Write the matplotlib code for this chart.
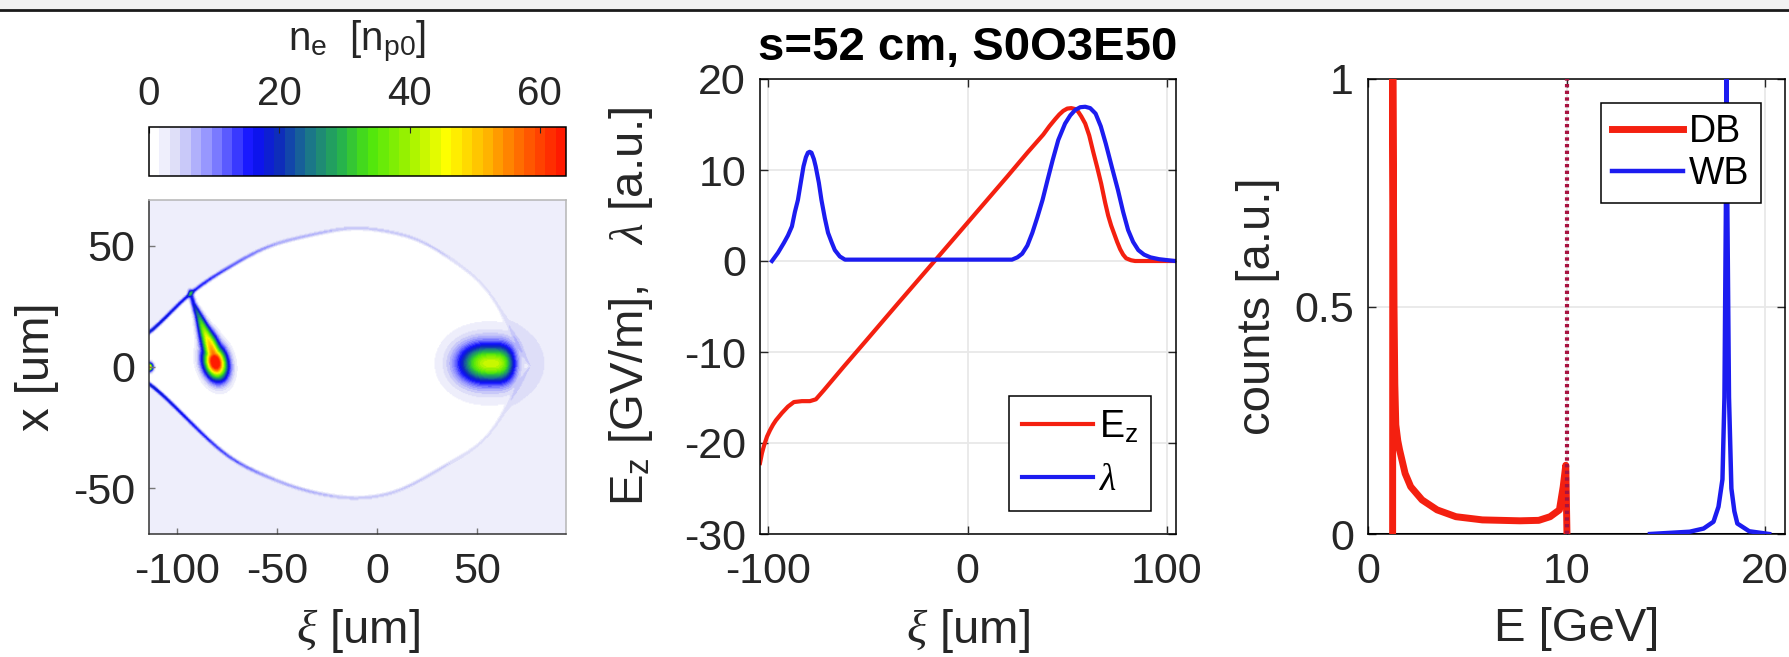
import numpy as np
import matplotlib
matplotlib.use('Agg')
import matplotlib.pyplot as plt
from matplotlib.colors import LinearSegmentedColormap
from matplotlib.lines import Line2D
from matplotlib.patches import Rectangle

plt.rcParams['font.family'] = ['Liberation Sans', 'DejaVu Sans']
plt.rcParams['axes.unicode_minus'] = False
plt.rcParams['mathtext.fontset'] = 'custom'
plt.rcParams['mathtext.rm'] = 'Liberation Sans'
plt.rcParams['mathtext.it'] = 'Liberation Serif:italic'
plt.rcParams['mathtext.bf'] = 'Liberation Sans:bold'

# ---- electron density map (left) ----
map_xi_lim = [-114.0, 94.5]
map_x_lim = [-69.0, 69.0]
# blowout boundary, upper and lower edge  [um]; the edges cross past the front
upper_xi = [-118, -114, -93.5, -55, -11, 21.5, 40.5, 55, 64, 70, 78]
upper_x = [8, 12, 31, 50, 58, 53, 42, 34, 24, 8, -10]
lower_xi = [-118, -114, -74, -40, -13, 10, 40.5, 55, 64, 70, 78]
lower_x = [-1, -5, -38, -50, -54.5, -52, -37, -31, -22, -6, 10]
background_density = 2.0
sheath_xi = [-114, -95, -75, -50, -10, 30, 50, 70, 94.5]
sheath_peak = [18, 15, 11, 6, 4, 3.5, 2, 1, 0.5]
drive_centre = [57.0, 1.5]
drive_peak = 39.0
drive_len = [15.0, 11.5]          # tail side, head side
drive_width = 5.4
witness_centre = [-81.0, 2.0]
witness_peak = 72.0
witness_size = [5.0, 3.8]         # along tail, across tail
tail_xi = [-81, -84, -87, -89.5, -91.8, -93.5]
tail_x = [3, 10, 16, 21.5, 26, 31]
tail_peak = [60, 50, 38, 26, 18, 15]
tail_width = [3.5, 2.8, 2.0, 1.4, 1.0, 0.9]
back_spot = [-114.0, 0.0, 55.0]   # xi, x, density

cmap_levels = [0, 0.06, 0.14, 0.24, 0.30, 0.38, 0.46, 0.53, 0.62, 0.72, 0.82, 0.92, 1.0]
cmap_colors = ['#ffffff', '#d9d9f7', '#8c8cff', '#0d0dff', '#0d26bf', '#1a738c',
               '#26b24d', '#4ce60d', '#99f200', '#ffff00', '#ffb300', '#ff5900', '#ff1a00']
density_max = 64

# ---- on-axis field and current (middle) ----
ez_xi = [-104, -103, -102, -100.5, -99, -97.5, -96, -93, -90, -87, -83, -79, -76, -72,
         -62, -51, -35, -16.5, 0, 20, 30, 38, 41, 44, 46, 48, 50, 52, 54, 55.5, 57, 59,
         61, 63, 65, 67, 69, 70.5, 72, 73.5, 75, 76.5, 78, 79.5, 82, 84, 104]
ez_val = [-22.2, -21.1, -20.3, -19.3, -18.6, -18.0, -17.5, -16.7, -16.0, -15.5, -15.4,
          -15.4, -15.2, -14.2, -11.6, -8.8, -4.7, 0.0, 4.2, 9.3, 11.9, 13.9, 14.8, 15.6,
          16.1, 16.5, 16.75, 16.8, 16.7, 16.4, 15.9, 15.1, 13.8, 12.0, 10.3, 8.5, 6.4,
          5.0, 3.9, 3.0, 2.1, 1.3, 0.7, 0.3, 0.08, 0.0, 0.0]
lam_xi = [-98, -95, -92, -90, -88, -86.5, -85, -83.5, -82.2, -81, -80, -79.1, -78.2,
          -77, -76.1, -74.5, -73.2, -71.5, -69.9, -68, -66.5, -64, -61.4,
          22.3, 25, 27.4, 30, 32.5, 35, 37.6, 40, 42.7, 45.5, 48.9, 51.5, 54, 56.5, 59,
          61.5, 64.2, 66.8, 69.3, 72.5, 75.4, 78, 80.5, 83, 85.6, 88.5, 91.7, 96, 99.9, 104]
lam_val = [0.0, 0.9, 2.0, 2.8, 3.8, 5.4, 6.7, 8.7, 10.4, 11.4, 11.9, 12.0, 11.9,
           11.2, 10.4, 8.6, 6.7, 4.7, 3.1, 2.0, 1.2, 0.5, 0.15,
           0.15, 0.4, 0.8, 1.7, 3.1, 4.8, 6.7, 8.8, 11.1, 13.3, 15.1, 16.0, 16.6, 16.9,
           16.95, 16.8, 16.2, 14.8, 12.9, 10.2, 7.8, 5.4, 3.4, 2.1, 1.2, 0.7, 0.4, 0.2,
           0.1, 0.0]

# ---- energy spectra (right) ----
db_energy = [1.24, 1.25, 1.28, 1.31, 1.35, 1.40, 1.50, 1.59, 1.87, 2.15, 2.72, 3.48,
             4.43, 5.76, 7.65, 8.6, 9.17, 9.64, 9.83, 9.96, 10.02]
db_counts = [0.0, 1.0, 0.75, 0.5, 0.33, 0.24, 0.205, 0.185, 0.133, 0.104, 0.075, 0.053,
             0.038, 0.031, 0.029, 0.03, 0.038, 0.053, 0.104, 0.151, 0.0]
wb_energy = [14.2, 16.2, 16.9, 17.4, 17.65, 17.85, 17.95, 18.02, 18.06, 18.1, 18.18,
             18.3, 18.45, 18.6, 19.2, 20.2]
wb_counts = [0.0, 0.005, 0.012, 0.027, 0.06, 0.12, 0.3, 0.7, 1.0, 0.7, 0.3,
             0.1, 0.05, 0.023, 0.006, 0.0]
injection_energy = 10.0

RED = '#f42010'
BLUE = '#1c1cf0'
TICK_FS = 31
LABEL_FS = 34
W, H = 1790, 657


def frac(x0, y0, x1, y1):
    return [x0 / W, 1 - y1 / H, (x1 - x0) / W, (y1 - y0) / H]


def style_axes(ax, spine_color='black'):
    ax.tick_params(direction='in', top=True, right=True, length=6, width=1,
                   labelsize=TICK_FS, colors='#262626')
    ax.tick_params(axis='x', pad=13)
    ax.tick_params(axis='y', pad=10)
    for s in ax.spines.values():
        s.set_color(spine_color)
        s.set_linewidth(1.1)


def smooth_edge(xi, pts_xi, pts_x, width=9.0):
    # piecewise edge, softened with a short running mean
    step = xi[1] - xi[0]
    pad = np.arange(1, int(3 * width / step) + 1) * step
    ext = np.concatenate([xi[0] - pad[::-1], xi, xi[-1] + pad])
    edge = np.interp(ext, pts_xi, pts_x)
    k = np.exp(-0.5 * (np.arange(-len(pad), len(pad) + 1) * step / width) ** 2)
    edge = np.convolve(edge, k / k.sum(), mode='same')
    return edge[len(pad):len(pad) + len(xi)]


fig = plt.figure(figsize=(W / 100, H / 100), dpi=100)

# header strip and rule
fig.add_artist(Rectangle((0, 1 - 9 / H), 1, 9 / H, transform=fig.transFigure,
                         color='#f2f2f2', lw=0))
fig.add_artist(Line2D([0, 1], [1 - 10 / H] * 2, transform=fig.transFigure,
                      color='#1a1a1a', lw=2))

# --- density map ---
xi_grid = np.linspace(map_xi_lim[0], map_xi_lim[1], 460)
x_grid = np.linspace(map_x_lim[0], map_x_lim[1], 320)
XI, XX = np.meshgrid(xi_grid, x_grid)

up = smooth_edge(xi_grid, upper_xi, upper_x)
lo = smooth_edge(xi_grid, lower_xi, lower_x)
up_n = np.sqrt(1 + np.gradient(up, xi_grid) ** 2)
lo_n = np.sqrt(1 + np.gradient(lo, xi_grid) ** 2)
d = np.minimum((up[None, :] - XX) / up_n[None, :], (XX - lo[None, :]) / lo_n[None, :])

dens = background_density * 0.5 * (1 - np.tanh(d / 0.6))
dens += np.interp(XI, sheath_xi, sheath_peak) * np.exp(-((d + 0.7) / 0.85) ** 2)

# drive bunch: sharp head, longer tail
dxi = XI - drive_centre[0]
lon = np.where(dxi < 0, np.exp(-np.abs(dxi / drive_len[0]) ** 2.5),
               np.exp(-np.abs(dxi / drive_len[1]) ** 3.5))
dens += drive_peak * lon * np.exp(-0.5 * ((XX - drive_centre[1]) / drive_width) ** 2)
dens += 4.0 * np.exp(-0.5 * (((XI - 56) / 18) ** 2 + ((XX - 1.5) / 12) ** 2))

# witness bunch, stretched along its tail towards the sheath
ux, uy = tail_xi[-1] - tail_xi[0], tail_x[-1] - tail_x[0]
norm = np.hypot(ux, uy)
ux, uy = ux / norm, uy / norm
a = (XI - witness_centre[0]) * ux + (XX - witness_centre[1]) * uy
b = -(XI - witness_centre[0]) * uy + (XX - witness_centre[1]) * ux
wit = witness_peak * np.exp(-0.5 * ((a / witness_size[0]) ** 2 + (b / witness_size[1]) ** 2))
idx = np.arange(len(tail_xi))
for tt in np.linspace(0, len(tail_xi) - 1, 80):
    cx = np.interp(tt, idx, tail_xi)
    cy = np.interp(tt, idx, tail_x)
    amp = np.interp(tt, idx, tail_peak)
    w = np.interp(tt, idx, tail_width)
    wit = np.maximum(wit, amp * np.exp(-0.5 * ((XI - cx) ** 2 + (XX - cy) ** 2) / w ** 2))
dens += wit
dens += back_spot[2] * np.exp(-0.5 * ((XI - back_spot[0]) ** 2 + (XX - back_spot[1]) ** 2) / 1.2 ** 2)

cmap = LinearSegmentedColormap.from_list('ne', list(zip(cmap_levels, cmap_colors)), N=40)

ax_map = fig.add_axes(frac(149, 200, 566, 534))
im = ax_map.imshow(dens, extent=[*map_xi_lim, *map_x_lim], origin='lower', aspect='auto',
                   cmap=cmap, vmin=0, vmax=density_max, interpolation='bilinear')
ax_map.set_xlim(map_xi_lim)
ax_map.set_ylim(map_x_lim)
ax_map.set_xticks([-100, -50, 0, 50])
ax_map.set_yticks([-50, 0, 50])
style_axes(ax_map, '#b5b5b5')
ax_map.tick_params(top=False, right=False, length=4, color='#777777')
ax_map.spines['left'].set_color('#333333')
ax_map.spines['bottom'].set_color('#333333')
ax_map.set_xlabel(r'$\xi$ [um]', fontsize=LABEL_FS, labelpad=11, color='#262626')
ax_map.set_ylabel('x [um]', fontsize=LABEL_FS, labelpad=10, color='#262626')

cax = fig.add_axes(frac(149, 127, 566, 176))
cb = fig.colorbar(im, cax=cax, orientation='horizontal')
cb.set_ticks([0, 20, 40, 60])
cax.xaxis.set_ticks_position('top')
cax.xaxis.set_label_position('top')
cax.tick_params(direction='in', length=4, labelsize=29, pad=10, colors='#262626')
cb.outline.set_linewidth(1.1)
cb.set_label(r'n$_\mathregular{e}$  [n$_\mathregular{p0}$]', fontsize=29, labelpad=17,
             color='#262626')

# --- field and current ---
ax_mid = fig.add_axes(frac(760, 79, 1176, 534))
ax_mid.plot(ez_xi, ez_val, color=RED, lw=3, label=r'E$_\mathregular{z}$')
ax_mid.plot(lam_xi, lam_val, color=BLUE, lw=3, label=r'$\lambda$')
ax_mid.set_xlim(-104, 104.5)
ax_mid.set_ylim(-30, 20)
ax_mid.set_xticks([-100, 0, 100])
ax_mid.set_yticks([-30, -20, -10, 0, 10, 20])
ax_mid.grid(True, color='#e8e8e8', lw=1.3)
ax_mid.set_axisbelow(True)
style_axes(ax_mid)
ax_mid.set_xlabel(r'$\xi$ [um]', fontsize=LABEL_FS, labelpad=11, color='#262626')
ax_mid.set_ylabel(r'E$_\mathregular{z}$ [GV/m],   $\lambda$ [a.u.]', fontsize=LABEL_FS,
                  labelpad=21, color='#262626')
ax_mid.set_title('s=52 cm, S0O3E50', fontsize=LABEL_FS, fontweight='bold', pad=14)
leg = ax_mid.legend(loc='lower right', bbox_to_anchor=(0.94, 0.05), borderaxespad=0,
                    fontsize=27, handlelength=1.9, handletextpad=0.15, borderpad=0.35,
                    labelspacing=0.45, fancybox=False, framealpha=1, edgecolor='black')
leg.get_frame().set_linewidth(1.1)

# --- spectra ---
ax_spec = fig.add_axes(frac(1368, 79, 1785, 534))
ax_spec.axhline(0, color='black', lw=2.2, zorder=1)
ax_spec.plot(db_energy, db_counts, color=RED, lw=5, label='DB', zorder=3)
ax_spec.plot(wb_energy, wb_counts, color=BLUE, lw=3.2, label='WB', zorder=3)
ax_spec.axvline(injection_energy, color='#a8123f', lw=3, ls=(0, (0.8, 0.8)), zorder=4)
ax_spec.set_xlim(0, 21)
ax_spec.set_ylim(0, 1)
ax_spec.set_xticks([0, 10, 20])
ax_spec.set_yticks([0, 0.5, 1])
ax_spec.set_yticklabels(['0', '0.5', '1'])
ax_spec.grid(True, color='#e8e8e8', lw=1.3)
ax_spec.set_axisbelow(True)
style_axes(ax_spec)
ax_spec.set_xlabel('E [GeV]', fontsize=LABEL_FS, labelpad=11, color='#262626')
ax_spec.set_ylabel('counts [a.u.]', fontsize=LABEL_FS, labelpad=10, color='#262626')
leg2 = ax_spec.legend(loc='upper right', bbox_to_anchor=(0.942, 0.947), borderaxespad=0,
                      fontsize=27, handlelength=1.9, handletextpad=0.15, borderpad=0.3,
                      labelspacing=0.15, fancybox=False, framealpha=1, edgecolor='black')
leg2.get_frame().set_linewidth(1.1)

fig.savefig('out.png', dpi=100)
